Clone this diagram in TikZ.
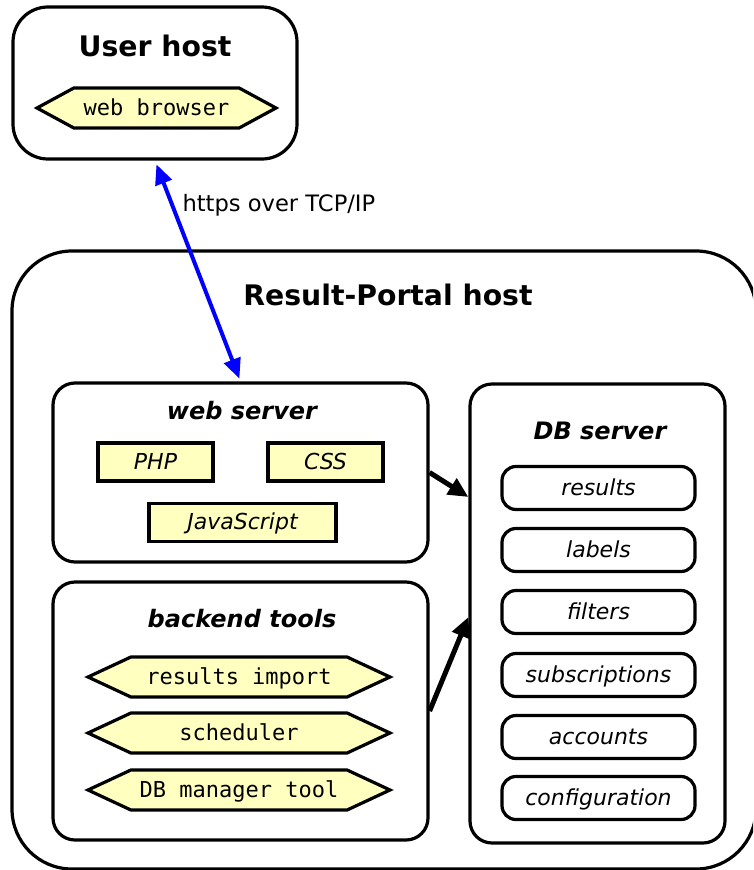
\documentclass[tikz,border=0pt]{standalone}
\usepackage{fontspec}
\setmainfont{DejaVu Sans}
\setmonofont{DejaVu Sans Mono}
\usetikzlibrary{arrows.meta,shapes.symbols}
\definecolor{hexyellow}{RGB}{255,255,192}

\tikzset{
  hostbox/.style={draw,line width=3.2pt,rounded corners=#1,inner sep=0pt},
  hostbox/.default=22pt,
  hosttitle/.style={anchor=base,font=\fontsize{28.3}{34}\selectfont\bfseries},
  boxtitle/.style={anchor=base,font=\fontsize{24}{28}\selectfont\bfseries\itshape},
  tablebox/.style={draw,line width=3.2pt,rounded corners=14pt,inner sep=0pt,
    minimum width=193pt,minimum height=43pt,text height=16pt,text depth=2pt,
    font=\fontsize{22}{26}\selectfont\itshape},
  langbox/.style={draw,line width=3.2pt,fill=hexyellow,inner sep=0pt,
    minimum height=38pt,text height=16pt,text depth=2pt,
    font=\fontsize{22}{26}\selectfont\itshape},
  toolhex/.style={signal,signal to=west and east,draw,line width=3.2pt,
    fill=hexyellow,inner sep=0pt,minimum height=40pt,text height=16pt,
    text depth=2pt,font=\fontsize{22}{26}\selectfont\ttfamily},
  link/.style={line width=5pt,-{Triangle[length=20pt,width=18pt]}},
}

\begin{document}
\begin{tikzpicture}[x=1pt,y=-1pt]
  \useasboundingbox (0,0) rectangle (753,870);

  % the portal host runs off the page
  \begin{scope}
    \clip (0,0) rectangle (753,870);
    \node[hostbox=60pt,minimum width=744pt,minimum height=618pt] (portal) at (384,560) {};
  \end{scope}
  \node[hosttitle] (portaltitle) at (388,305) {Result-Portal host};

  % user side
  \node[hostbox=35pt,minimum width=284pt,minimum height=152pt] (userhost) at (155,83) {};
  \node[hosttitle] (usertitle) at (155,56) {User host};
  \node[toolhex,minimum width=239pt,signal pointer angle=57] (browser) at (156.5,108) {web browser};

  % web server
  \node[hostbox,minimum width=375pt,minimum height=179pt] (webserver) at (240.5,472.5) {};
  \node[boxtitle] (webtitle) at (242,419) {web server};
  \node[langbox,minimum width=115pt] (php) at (155.5,462) {PHP};
  \node[langbox,minimum width=115pt] (css) at (325.5,462) {CSS};
  \node[langbox,minimum width=187pt] (js) at (242.5,522.5) {JavaScript};

  % backend tools
  \node[hostbox,minimum width=375pt,minimum height=258pt] (backend) at (240.5,711) {};
  \node[boxtitle] (backtitle) at (242,627) {backend tools};
  \node[toolhex,minimum width=302pt,signal pointer angle=50] (import) at (239,677) {results import};
  \node[toolhex,minimum width=302pt,signal pointer angle=50] (sched) at (239,733) {scheduler};
  \node[toolhex,minimum width=302pt,signal pointer angle=50] (dbtool) at (239,790) {DB manager tool};

  % DB server and its tables
  \node[hostbox,minimum width=255pt,minimum height=459pt] (dbserver) at (597.5,613.5) {};
  \node[boxtitle] (dbtitle) at (600,439) {DB server};
  \foreach \tab/\ypos in {results/488,labels/550,filters/612,subscriptions/675,accounts/737,configuration/798}
    \node[tablebox] (\tab) at (598.5,\ypos) {\tab};

  % connections
  \draw[line width=4pt,blue,{Triangle[length=20pt,width=17pt]}-{Triangle[length=20pt,width=17pt]},
    shorten <=4pt,shorten >=3pt] (userhost.south) -- (webserver.north);
  \node[anchor=base west,font=\fontsize{22.6}{27}\selectfont] (proto) at (179,211) {https over TCP/IP};
  \draw[link] (webserver.east) -- (dbserver.west |- 0,497);
  \draw[link] (backend.east) -- (dbserver.west |- 0,617);
\end{tikzpicture}
\end{document}
